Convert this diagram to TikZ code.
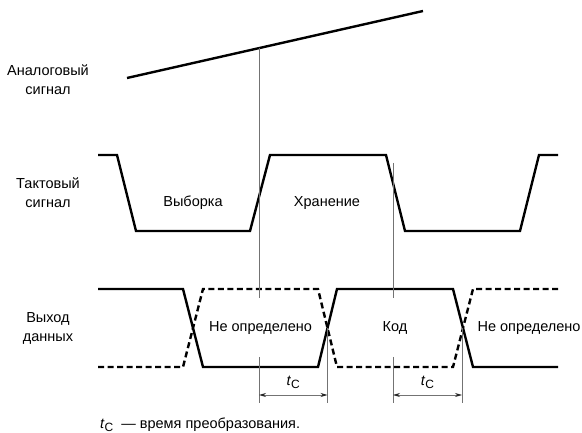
\documentclass[tikz,border=0pt]{standalone}
\usepackage{fontspec}
\setmainfont{Liberation Sans}
\usetikzlibrary{arrows.meta}
\tikzset{
  signal/.style={line width=2.4pt},
  nosignal/.style={line width=2.4pt, dash pattern=on 6pt off 3.5pt},
  marker/.style={line width=0.8pt, black!55},
  dimline/.style={marker, {Stealth[length=7pt,width=4pt,color=black!85]}-{Stealth[length=7pt,width=4pt,color=black!85]}},
  lbl/.style={align=center, inner sep=0pt},
}
\newcommand{\tconv}{\textit{t}\raisebox{-0.35ex}{\fontsize{12}{12}\selectfont С}}

\begin{document}
\begin{tikzpicture}[x=1pt,y=-1pt,font=\fontsize{14.5}{19}\selectfont]
  \useasboundingbox (0,0) rectangle (582,433);
  % signals
  \draw[signal] (127,78) -- coordinate[pos=0.446] (samp) (423,11);
  \draw[signal] (98,155) -- (117,155) -- (136,231) -- (250,231) -- (270,155) -- (386,155)
     -- (405,231) -- (520,231) -- (539,155) -- (558,155);
  \draw[signal] (98,289) -- (183,289) -- (203,367) -- (318,367) -- (337,289) -- (453,289)
     -- (473,367) -- (558,367);
  \draw[nosignal] (98,367) -- (183,367) -- (203,289) -- (318,289) -- (337,367) -- (453,367)
     -- (473,289) -- (558,289);
  \coordinate (x1) at (327.5,328);
  \coordinate (x2) at (462,328);
  \coordinate (hold) at (393,163);
  % markers
  \draw[marker] (samp) -- (samp |- 0,298);
  \draw[marker] (samp |- 0,357) -- (samp |- 0,403);
  \draw[marker] (hold) -- (hold |- 0,298);
  \draw[marker] (hold |- 0,357) -- (hold |- 0,403);
  \draw[marker] (x1) -- (x1 |- 0,403);
  \draw[marker] (x2) -- (x2 |- 0,403);
  \draw[dimline] (samp |- 0,395) -- node[above=3pt, black]{\tconv} (x1 |- 0,395);
  \draw[dimline] (hold |- 0,395) -- node[above=3pt, black]{\tconv} (x2 |- 0,395);
  % labels
  \node[lbl] (analog) at (48,79.5) {Аналоговый\\сигнал};
  \node[lbl] (clock) at (48,193) {Тактовый\\сигнал};
  \node[lbl] (data) at (48,328) {Выход\\данных};
  \node[lbl] (sample) at (193,203) {Выборка};
  \node[lbl] (store) at (327,203) {Хранение};
  \node[lbl] (undef1) at (260.5,328) {Не определено};
  \node[lbl] (code) at (395,328) {Код};
  \node[lbl] (undef2) at (529,328) {Не определено};
  \node[lbl, anchor=west] (note) at (100,425) {\tconv\hspace{8pt}— время преобразования.};
\end{tikzpicture}
\end{document}
